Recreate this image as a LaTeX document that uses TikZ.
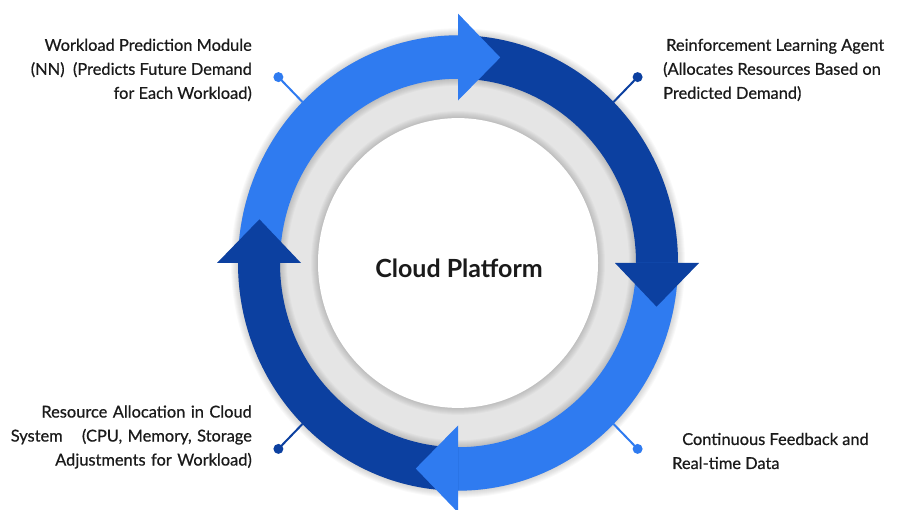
\documentclass[tikz,border=0pt]{standalone}
\usepackage{fontspec}
\setmainfont{Lato}
\newfontfamily\labelfont{Lato}[FakeBold=0.6]
\definecolor{ringlight}{HTML}{2F7BF0}
\definecolor{ringdark}{HTML}{0C40A0}
\definecolor{hubgray}{HTML}{E5E5E5}
\definecolor{labeltext}{HTML}{1A1A1A}

\begin{document}
\begin{tikzpicture}[x=1pt,y=1pt]
    \tikzstyle{every node}=[font={\labelfont\fontsize{16.4}{24}\selectfont}, text=labeltext, inner sep=0pt]
    \tikzstyle{pin dot}=[circle, minimum size=10pt]
    \tikzstyle{haze}=[black, opacity=0.022]
    \useasboundingbox (0,0) rectangle (897,509);
    \begin{scope}[shift={(458,246)}, yscale=1.035]
    % hub
    \fill[hubgray] (0,0) circle[radius=220];
    \foreach \w in {2,4,...,14} {
        \draw[haze, line width=\w pt] (0,0) circle[radius=178];
        \draw[haze, line width=\w pt] (0,0) circle[radius=220];
        \draw[haze, line width=\w pt] (0,0) circle[radius=140];
    }
    \fill[white] (0,0) circle[radius=140];
    % pins
    \coordinate (tlEdge) at (135:220);
    \coordinate (trEdge) at (45:220);
    \coordinate (blEdge) at (225:220);
    \coordinate (brEdge) at (-45:220);
    \node[pin dot, fill=ringlight] (tlDot) at (135:254) {};
    \node[pin dot, fill=ringdark] (trDot) at (45:254) {};
    \node[pin dot, fill=ringdark] (blDot) at (225:254) {};
    \node[pin dot, fill=ringlight] (brDot) at (-45:254) {};
    \draw[ringlight, line width=2pt] (tlDot.center) -- (tlEdge);
    \draw[ringdark, line width=2pt] (trDot.center) -- (trEdge);
    \draw[ringdark, line width=2pt] (blDot.center) -- (blEdge);
    \draw[ringlight, line width=2pt] (brDot.center) -- (brEdge);
    % ring
    \foreach \a/\c in {180/ringlight, 90/ringdark, 0/ringlight, -90/ringdark}
        \fill[\c] (\a:220) arc[start angle=\a, end angle=\a-90, radius=220]
            -- ({\a-90}:178) arc[start angle=\a-90, end angle=\a, radius=178] -- cycle;
    % arrow heads
    \foreach \a/\c in {90/ringlight, 0/ringdark, -90/ringlight, 180/ringdark}
        \fill[\c] (\a:157) -- (\a:241) -- ({\a-12}:203) -- cycle;
    \end{scope}
    % labels
    \node[font={\fontsize{25}{28}\selectfont\bfseries}] (platform) at (459,241) {Cloud Platform};
    \node[anchor=east, align=right] (predict) at (252,439)
        {Workload Prediction Module\\(NN)\ \ (Predicts Future Demand\\for Each Workload)};
    \node[anchor=west, align=left] (agent) at (663,439)
        {\hspace*{3pt}Reinforcement Learning Agent\\(Allocates Resources Based on\\Predicted Demand)};
    \node[anchor=east, align=right, text width=241pt] (alloc) at (252,72)
        {Resource Allocation in Cloud\\System\hfill(CPU, Memory, Storage\\Adjustments for Workload)};
    \node[anchor=west, align=left] (feedback) at (672,58)
        {\hspace*{10pt}Continuous Feedback and\\Real-time Data};
\end{tikzpicture}
\end{document}
